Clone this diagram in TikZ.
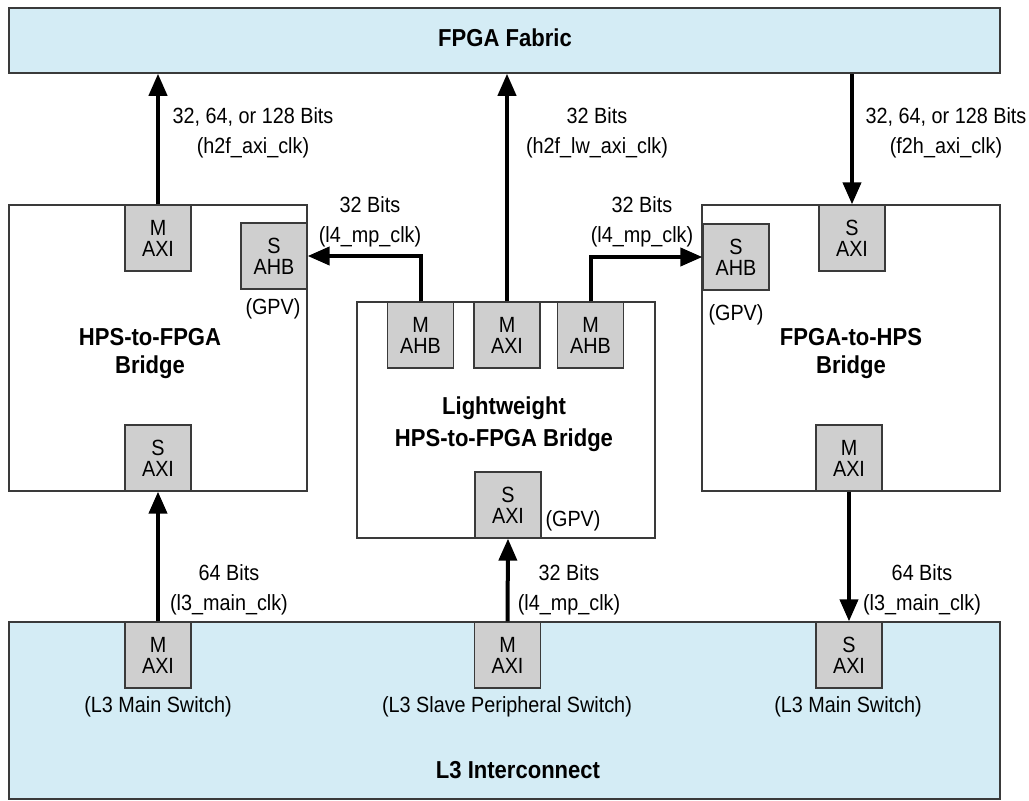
\documentclass[tikz,border=0pt]{standalone}
\usepackage{fontspec}
\setmainfont[FakeStretch=0.9]{Liberation Sans}
\usetikzlibrary{arrows.meta}
\definecolor{lblue}{HTML}{D4ECF5}
\definecolor{pgray}{HTML}{CFCFCF}
\definecolor{edgec}{HTML}{3A3A3A}
\begin{document}
\begin{tikzpicture}[x=1pt,y=-1pt,
  blk/.style={draw=edgec,line width=1.5pt,inner sep=0pt},
  bus/.style={blk,fill=lblue},
  bridge/.style={blk,fill=white},
  port/.style={draw=edgec,line width=1.3pt,fill=pgray,minimum width=66pt,minimum height=66pt,inner sep=0pt,align=center,font=\fontsize{22}{21}\selectfont},
  arr/.style={line width=4pt,-{Triangle[width=18pt,length=22pt]}},
  lbl/.style={align=center,inner sep=0pt,font=\fontsize{22}{30}\selectfont},
  ttl/.style={align=center,inner sep=0pt,font=\bfseries\fontsize{24.5}{28}\selectfont}]
\useasboundingbox (0,0) rectangle (1029,801);

% buses
\node[bus,minimum width=991pt,minimum height=65pt] (fabric) at (504.5,40.5) {};
\node[ttl] (fabrict) at (505,38) {FPGA Fabric};
\node[bus,minimum width=991pt,minimum height=177pt] (l3) at (504.5,710.5) {};
\node[ttl] (l3t) at (518,770) {L3 Interconnect};

% bridges
\node[bridge,minimum width=298pt,minimum height=286pt] (h2f) at (158,348) {};
\node[bridge,minimum width=298pt,minimum height=236pt] (lw) at (506,420) {};
\node[bridge,minimum width=298pt,minimum height=286pt] (f2h) at (851,348) {};

\node[ttl] (h2ft) at (150,354) {HPS-to-FPGA\\Bridge};
\node[ttl] (f2ht) at (851,354) {FPGA-to-HPS\\Bridge};
\node[ttl,font=\bfseries\fontsize{24.5}{32}\selectfont] (lwt) at (504,424) {Lightweight\\HPS-to-FPGA Bridge};

% ports
\node[port] (h2fM) at (158,238) {M\\AXI};
\node[port] (h2fS) at (274,256) {S\\AHB};
\node[port] (h2fSA) at (158,458) {S\\AXI};
\node[port] (lwAL) at (420.5,335) {M\\AHB};
\node[port] (lwM) at (507,335) {M\\AXI};
\node[port] (lwAR) at (590.5,335) {M\\AHB};
\node[port] (lwS) at (508,505) {S\\AXI};
\node[port] (f2hS) at (736,257) {S\\AHB};
\node[port] (f2hSA) at (852,238) {S\\AXI};
\node[port] (f2hM) at (849,458) {M\\AXI};
\node[port] (l3L) at (158,655) {M\\AXI};
\node[port] (l3M) at (507.5,655) {M\\AXI};
\node[port] (l3R) at (849,655) {S\\AXI};

% GPV and switch labels
\node[lbl] (gpv1) at (273,309) {(GPV)};
\node[lbl] (gpv2) at (736,315) {(GPV)};
\node[lbl] (gpv3) at (573,521) {(GPV)};
\node[lbl] (swL) at (158,707) {(L3 Main Switch)};
\node[lbl] (swM) at (507,707) {(L3 Slave Peripheral Switch)};
\node[lbl] (swR) at (848,707) {(L3 Main Switch)};

% connectors
\draw[arr] (h2fM.north) -- (h2fM.north |- fabric.south);
\draw[arr] (lwM.north) -- (lwM.north |- fabric.south);
\draw[arr] (f2hSA.north |- fabric.south) -- (f2hSA.north);
\draw[arr] (lwAL.north) |- (h2fS.east);
\draw[arr] (lwAR.north) |- (f2hS.west);
\draw[arr] (l3L.north) -- (h2fSA.south);
\draw[arr] (l3M.north) -- (lwS.south);
\draw[arr] (f2hM.south) -- (l3R.north);

% connector labels
\node[lbl] (t1) at (253,133) {32, 64, or 128 Bits\\(h2f\_axi\_clk)};
\node[lbl] (t2) at (597,133) {32 Bits\\(h2f\_lw\_axi\_clk)};
\node[lbl] (t3) at (946,133) {32, 64, or 128 Bits\\(f2h\_axi\_clk)};
\node[lbl] (t4) at (370,222) {32 Bits\\(l4\_mp\_clk)};
\node[lbl] (t5) at (642,222) {32 Bits\\(l4\_mp\_clk)};
\node[lbl] (t6) at (229,590) {64 Bits\\(l3\_main\_clk)};
\node[lbl] (t7) at (569,590) {32 Bits\\(l4\_mp\_clk)};
\node[lbl] (t8) at (922,590) {64 Bits\\(l3\_main\_clk)};
\end{tikzpicture}
\end{document}
